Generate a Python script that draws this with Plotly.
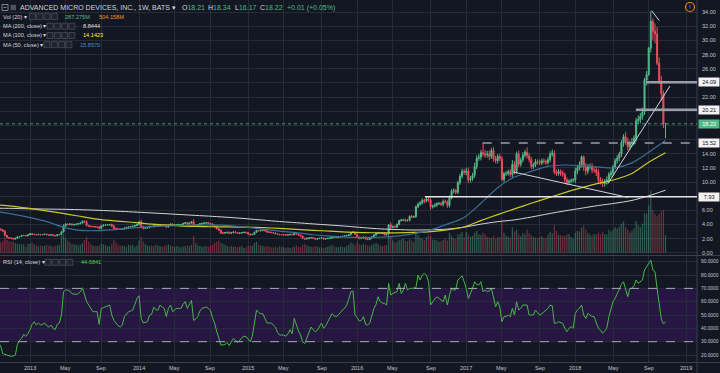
import pandas as pd
import plotly.graph_objects as go

# ---------------- data (weekly bars, AMD) ----------------
first_week = "2012-09-10"          # Monday of the first weekly bar
first_open = 3.75

close_2012 = [3.60, 3.40, 3.35, 3.25, 3.05, 2.45, 2.15, 2.10, 2.05, 1.95, 2.05, 2.25, 2.30, 2.45, 2.45, 2.40, 2.55]
close_2013 = [2.70, 2.60, 2.60, 2.55, 2.60, 2.55, 2.58, 2.62, 2.55, 2.50, 2.55, 2.45, 2.40, 2.55, 2.58, 2.95, 3.80, 4.05, 4.00, 4.05,
              3.95, 4.00, 4.05, 4.10, 4.20, 4.45, 4.30, 3.85, 3.75, 3.70, 3.70, 3.65, 3.65, 3.45, 3.80, 3.90, 3.95, 3.95, 4.00, 3.75,
              3.45, 3.40, 3.35, 3.30, 3.35, 3.50, 3.60, 3.65, 3.70, 3.75, 3.85, 4.00]
close_2014 = [4.35, 3.70, 3.45, 3.50, 3.55, 3.75, 3.70, 3.90, 3.80, 3.80, 3.95, 3.90, 3.85, 3.65, 3.90, 4.05, 3.85, 3.95, 4.00, 4.00,
              4.00, 4.15, 4.25, 4.05, 4.20, 4.40, 3.90, 3.90, 3.95, 4.10, 4.15, 4.20, 4.25, 4.15, 4.10, 3.85, 3.70, 3.40, 3.20, 2.80,
              2.80, 2.85, 2.90, 2.75, 2.85, 2.95, 2.85, 2.75, 2.80, 2.85, 2.90, 2.85]
close_2015 = [2.65, 2.55, 2.60, 2.90, 3.15, 3.10, 3.15, 3.20, 3.10, 2.95, 2.90, 2.85, 2.80, 2.70, 2.60, 2.55, 2.55, 2.55, 2.50, 2.55,
              2.60, 2.55, 2.75, 2.65, 2.50, 2.35, 2.05, 1.95, 2.05, 2.10, 2.15, 2.05, 1.95, 2.00, 2.05, 2.10, 1.95, 2.00, 2.05, 2.10,
              2.20, 2.15, 2.15, 2.20, 2.30, 2.35, 2.40, 2.45, 2.55, 2.85, 2.90, 2.60]
close_2016 = [2.20, 2.05, 2.10, 2.20, 1.95, 1.90, 2.10, 2.25, 2.50, 2.75, 2.80, 2.75, 2.80, 2.55, 2.70, 3.95, 3.60, 3.70, 3.65, 4.00,
              4.55, 4.60, 4.65, 4.55, 4.60, 5.15, 5.05, 5.10, 6.50, 6.85, 7.05, 7.40, 7.30, 7.60, 7.45, 6.50, 6.60, 6.75, 6.95, 6.95,
              6.85, 7.25, 7.20, 6.70, 7.80, 8.70, 8.80, 8.55, 9.90, 10.80, 11.50, 11.35]
close_2017 = [11.55, 10.30, 10.45, 10.95, 12.20, 13.35, 13.50, 14.15, 14.00, 13.85, 13.95, 13.60, 14.45, 13.30, 13.00, 13.60, 13.30, 10.35, 11.15, 11.20,
              11.45, 11.05, 12.50, 11.50, 14.00, 12.50, 13.10, 13.80, 14.20, 13.70, 13.20, 12.20, 12.40, 12.90, 12.80, 12.70, 13.00, 12.90, 12.75, 13.15,
              13.90, 14.05, 11.40, 11.20, 11.50, 11.20, 11.05, 10.30, 9.90, 10.10, 10.20, 10.28]
close_2018 = [11.55, 12.00, 12.45, 13.55, 12.10, 11.55, 12.15, 12.15, 11.70, 11.70, 11.35, 10.30, 10.05, 9.75, 10.00, 10.30, 11.05, 11.30, 12.15, 13.00,
              13.40, 13.95, 15.50, 16.40, 15.70, 14.99, 15.45, 15.60, 16.20, 18.65, 18.80, 19.25, 19.90, 24.40, 25.17, 28.90, 32.70, 31.30, 30.90, 26.80,
              24.30, 22.50, 18.21, 18.22]

wick_up_2012 = [0.10, 0.08, 0.10, 0.10, 0.12, 0.15, 0.10, 0.08, 0.08, 0.06, 0.08, 0.08, 0.07, 0.08, 0.07, 0.06, 0.10]
wick_up_2013 = [0.08, 0.10, 0.07, 0.06, 0.08, 0.07, 0.06, 0.08, 0.07, 0.06, 0.07, 0.06, 0.08, 0.07, 0.08, 0.15, 0.20, 0.15, 0.10, 0.12,
                0.10, 0.10, 0.08, 0.10, 0.10, 0.12, 0.15, 0.30, 0.12, 0.10, 0.08, 0.10, 0.08, 0.10, 0.12, 0.10, 0.12, 0.10, 0.08, 0.12,
                0.20, 0.10, 0.08, 0.08, 0.10, 0.08, 0.08, 0.08, 0.10, 0.08, 0.08, 0.10]
wick_up_2014 = [0.15, 0.35, 0.12, 0.10, 0.10, 0.10, 0.08, 0.10, 0.10, 0.12, 0.10, 0.10, 0.10, 0.12, 0.10, 0.10, 0.12, 0.10, 0.08, 0.10,
                0.08, 0.10, 0.10, 0.12, 0.10, 0.10, 0.35, 0.12, 0.10, 0.10, 0.10, 0.10, 0.10, 0.12, 0.10, 0.10, 0.10, 0.12, 0.10, 0.12,
                0.15, 0.10, 0.08, 0.10, 0.10, 0.08, 0.10, 0.10, 0.08, 0.08, 0.08, 0.08]
wick_up_2015 = [0.08, 0.08, 0.07, 0.10, 0.10, 0.08, 0.08, 0.08, 0.10, 0.08, 0.07, 0.08, 0.07, 0.08, 0.10, 0.08, 0.08, 0.07, 0.06, 0.07,
                0.06, 0.07, 0.08, 0.10, 0.08, 0.07, 0.08, 0.08, 0.08, 0.07, 0.06, 0.07, 0.06, 0.08, 0.07, 0.06, 0.07, 0.06, 0.06, 0.08,
                0.10, 0.08, 0.06, 0.07, 0.06, 0.07, 0.08, 0.07, 0.08, 0.10, 0.15, 0.10]
wick_up_2016 = [0.10, 0.10, 0.12, 0.10, 0.10, 0.10, 0.08, 0.10, 0.12, 0.10, 0.10, 0.10, 0.10, 0.10, 0.08, 0.10, 0.35, 0.15, 0.15, 0.15,
                0.12, 0.20, 0.15, 0.20, 0.15, 0.15, 0.20, 0.15, 0.20, 0.25, 0.25, 0.30, 0.25, 0.35, 0.40, 0.25, 0.20, 0.25, 0.20, 0.25,
                0.20, 0.30, 0.25, 0.20, 0.30, 0.30, 0.30, 0.25, 0.30, 0.40, 0.40, 0.35]
wick_up_2017 = [0.45, 0.50, 0.40, 0.35, 0.50, 0.40, 0.45, 0.40, 1.40, 0.55, 0.45, 0.50, 0.40, 0.45, 0.40, 0.35, 0.40, 0.35, 0.30, 0.35,
                0.30, 0.40, 0.60, 0.45, 0.30, 0.45, 0.35, 0.40, 0.35, 0.70, 0.40, 0.35, 0.30, 0.35, 0.30, 0.35, 0.30, 0.35, 0.30, 0.40,
                0.45, 0.55, 0.40, 0.35, 0.35, 0.30, 0.40, 0.30, 0.35, 0.30, 0.30, 0.25]
wick_up_2018 = [0.50, 0.40, 0.45, 0.20, 0.20, 0.60, 0.40, 0.45, 0.50, 0.40, 0.45, 0.50, 0.40, 0.45, 0.40, 0.50, 0.35, 0.45, 0.30, 0.35,
                0.40, 0.30, 0.40, 0.35, 0.70, 0.55, 0.40, 0.60, 0.40, 0.40, 0.60, 0.50, 0.60, 0.30, 0.50, 0.20, 1.44, 0.40, 1.10, 1.00,
                0.80, 0.70, 0.40, 0.12]

wick_dn_2012 = [0.12, 0.08, 0.08, 0.10, 0.10, 0.12, 0.08, 0.10, 0.10, 0.09, 0.10, 0.08, 0.08, 0.07, 0.06, 0.06, 0.05]
wick_dn_2013 = [0.08, 0.10, 0.08, 0.06, 0.07, 0.08, 0.06, 0.07, 0.06, 0.07, 0.08, 0.06, 0.07, 0.08, 0.06, 0.08, 0.10, 0.10, 0.12, 0.10,
                0.12, 0.10, 0.12, 0.10, 0.08, 0.10, 0.10, 0.10, 0.12, 0.10, 0.10, 0.10, 0.12, 0.10, 0.08, 0.10, 0.08, 0.10, 0.10, 0.08,
                0.10, 0.12, 0.10, 0.08, 0.08, 0.08, 0.06, 0.08, 0.08, 0.08, 0.06, 0.08]
wick_dn_2014 = [0.10, 0.10, 0.15, 0.10, 0.10, 0.08, 0.10, 0.08, 0.10, 0.10, 0.08, 0.10, 0.10, 0.15, 0.10, 0.08, 0.10, 0.10, 0.10, 0.08,
                0.10, 0.08, 0.10, 0.08, 0.10, 0.08, 0.10, 0.10, 0.12, 0.08, 0.10, 0.10, 0.08, 0.08, 0.10, 0.10, 0.10, 0.10, 0.12, 0.15,
                0.15, 0.10, 0.10, 0.08, 0.10, 0.10, 0.08, 0.08, 0.10, 0.08, 0.08, 0.08]
wick_dn_2015 = [0.08, 0.10, 0.07, 0.06, 0.08, 0.08, 0.07, 0.08, 0.08, 0.10, 0.07, 0.08, 0.07, 0.08, 0.06, 0.08, 0.07, 0.07, 0.08, 0.06,
                0.06, 0.07, 0.06, 0.08, 0.08, 0.08, 0.10, 0.12, 0.08, 0.15, 0.08, 0.07, 0.10, 0.15, 0.06, 0.07, 0.06, 0.07, 0.06, 0.07,
                0.08, 0.07, 0.06, 0.07, 0.06, 0.07, 0.06, 0.07, 0.08, 0.08, 0.08, 0.10]
wick_dn_2016 = [0.15, 0.15, 0.12, 0.10, 0.10, 0.12, 0.10, 0.08, 0.10, 0.10, 0.10, 0.10, 0.08, 0.12, 0.10, 0.10, 0.25, 0.12, 0.12, 0.15,
                0.10, 0.15, 0.12, 0.20, 0.15, 0.15, 0.15, 0.15, 0.15, 0.20, 0.20, 0.25, 0.30, 0.20, 0.25, 0.40, 0.25, 0.20, 0.25, 0.20,
                0.25, 0.30, 0.20, 0.35, 0.30, 0.25, 0.30, 0.30, 0.25, 0.30, 0.30, 0.35]
wick_dn_2017 = [0.40, 0.45, 0.35, 0.30, 0.35, 0.40, 0.35, 0.45, 0.40, 0.45, 0.40, 0.50, 0.35, 0.40, 0.35, 0.40, 0.35, 0.20, 0.35, 0.30,
                0.30, 0.35, 0.40, 0.45, 0.35, 0.40, 0.35, 0.30, 0.35, 0.40, 0.45, 0.40, 0.35, 0.30, 0.35, 0.30, 0.35, 0.30, 0.35, 0.30,
                0.35, 0.30, 0.30, 0.35, 0.30, 0.35, 0.30, 0.40, 0.35, 0.30, 0.30, 0.25]
wick_dn_2018 = [0.40, 0.45, 0.35, 0.40, 0.50, 0.60, 0.40, 0.35, 0.45, 0.40, 0.50, 0.45, 0.40, 0.45, 0.40, 0.35, 0.40, 0.35, 0.40, 0.35,
                0.40, 0.45, 0.40, 0.50, 0.45, 0.50, 0.40, 0.45, 0.40, 0.50, 0.45, 0.50, 0.45, 0.40, 0.80, 0.20, 0.60, 1.30, 1.30, 0.30,
                0.40, 1.00, 0.60, 2.04]

# weekly volume, millions of shares
vol_2012 = [180, 150, 160, 170, 190, 250, 210, 190, 180, 190, 160, 150, 150, 140, 140, 100, 150]
vol_2013 = [150, 170, 140, 120, 110, 120, 110, 120, 130, 120, 110, 100, 110, 120, 130, 280, 300, 240, 200, 170,
            150, 140, 130, 120, 130, 160, 210, 260, 180, 140, 120, 110, 110, 120, 150, 140, 130, 110, 110, 150,
            220, 170, 130, 120, 110, 110, 100, 130, 120, 130, 100, 120]
vol_2014 = [200, 260, 180, 140, 120, 110, 120, 110, 130, 120, 110, 100, 110, 120, 140, 120, 110, 100, 110, 100,
            90, 100, 110, 120, 110, 130, 280, 160, 120, 110, 100, 100, 110, 100, 110, 130, 160, 180, 200, 170,
            150, 130, 110, 100, 110, 100, 100, 90, 100, 110, 80, 90]
vol_2015 = [110, 120, 110, 160, 180, 130, 120, 110, 100, 110, 100, 90, 90, 100, 90, 110, 100, 90, 80, 90,
            80, 90, 100, 120, 100, 90, 130, 150, 120, 110, 100, 90, 110, 100, 90, 90, 80, 90, 100, 110,
            130, 110, 90, 90, 100, 100, 90, 110, 130, 170, 150, 120]
vol_2016 = [180, 140, 130, 150, 140, 120, 110, 130, 150, 160, 140, 120, 110, 120, 130, 330, 260, 200, 170, 180,
            210, 220, 230, 200, 190, 220, 200, 180, 330, 290, 250, 230, 210, 260, 300, 280, 220, 210, 200, 180,
            190, 210, 230, 200, 330, 280, 240, 230, 300, 310, 340, 250]
vol_2017 = [340, 300, 260, 280, 330, 360, 300, 290, 330, 300, 260, 250, 240, 280, 230, 250, 260, 550, 330, 280,
            260, 250, 420, 350, 380, 300, 270, 320, 300, 380, 320, 290, 260, 250, 240, 260, 270, 250, 240, 300,
            340, 320, 450, 360, 300, 290, 270, 280, 300, 310, 260, 230]
vol_2018 = [330, 360, 350, 420, 450, 380, 330, 300, 280, 310, 300, 330, 300, 340, 310, 300, 380, 350, 380, 420,
            400, 430, 480, 520, 420, 380, 330, 360, 400, 520, 450, 420, 480, 650, 640, 780, 1020, 700, 640, 600,
            640, 680, 700, 287]

# RSI(14) read week by week from the lower pane
rsi = [32, 31, 29, 27, 21, 20.5, 20, 19.5, 19, 19.2,
       20, 28, 31, 32.5, 35.5, 34, 36, 39, 43, 45,
       42.5, 44, 42.5, 43, 44, 42, 41, 42.5, 40, 39,
       43, 44, 50, 67.5, 69, 68.5, 68, 66, 65.5, 65.5,
       66, 67.5, 70.5, 66, 60, 57.5, 55, 52.5, 52.5, 52.5,
       43, 55, 55.5, 56, 57, 57.5, 50, 46, 44, 42,
       41, 42.5, 48.75, 51, 52.5, 53, 53.75, 58, 62.5, 64.5,
       47.5, 44, 44.5, 45, 50, 50.5, 56, 54, 53.75, 57.5,
       56, 55, 48.75, 55, 57.5, 52.5, 54, 55, 55, 55,
       58, 60, 55, 58, 61, 46, 47, 48.75, 53, 55,
       55.5, 56, 55, 53.75, 48, 44, 38, 32, 27.5, 27.5,
       28, 29.5, 27, 30, 32.5, 31, 29.5, 31, 33, 34,
       34, 32, 30, 34, 45, 53.75, 52, 51, 51, 48,
       44, 44, 44, 42.5, 41, 37, 35, 35, 35, 34,
       36, 39, 36, 47.5, 42.5, 38, 35, 30, 28.5, 33,
       37.5, 41, 39, 37.5, 38.5, 41, 44, 40, 42, 45,
       48, 51, 49.5, 48.75, 50, 52, 53.75, 55, 57.5, 62,
       67.5, 68, 50, 48, 45.5, 46, 48.75, 43, 42.5, 44,
       50, 55, 58, 63.75, 60, 59, 58.75, 57.5, 73.75, 65,
       66.25, 67, 67.5, 73.75, 66.25, 68.75, 73.75, 68.75, 70, 70,
       70, 70.5, 80, 76.25, 80, 81.25, 80, 75, 57.5, 60,
       62, 63.75, 62.5, 61, 60, 65, 57.5, 65, 70, 68.75,
       69, 76.25, 78, 79.5, 75, 70, 62.5, 66, 70, 75,
       73, 72.5, 75, 67.5, 68.75, 67.5, 68, 70, 62.5, 56.25,
       60, 56, 45, 48.75, 49, 50, 48.75, 55, 50, 60,
       53.75, 55, 57.5, 57.5, 57.5, 50, 50, 50, 53.75, 52,
       50, 51, 52.5, 53.75, 55, 57.5, 57, 43.75, 44, 45,
       44.5, 43.75, 40, 37.5, 40, 41.25, 40, 51.25, 53.75, 55,
       57.5, 50, 47.5, 51.25, 50, 49, 48.75, 45, 40, 38.75,
       36.25, 38, 40, 48.75, 55, 60, 62.5, 66, 70, 73,
       75, 70, 63.75, 70, 70, 72, 76.25, 73.75, 75, 76.25,
       83.75, 86.25, 89, 91.25, 83.75, 82.5, 70, 60, 47, 43.5,
       44.68]

# moving averages read every 8th week
ma_step_weeks = 8
ma200 = [6.30, 6.28, 6.22, 6.18, 6.15, 6.10, 6.02, 5.92, 5.80, 5.68, 5.55, 5.42, 5.28, 5.15, 5.00, 4.82, 4.62, 4.42, 4.25, 4.08,
         3.92, 3.75, 3.55, 3.38, 3.28, 3.22, 3.25, 3.35, 3.62, 4.05, 4.40, 4.65, 5.05, 5.50, 5.92, 6.30, 6.68, 7.00, 7.40, 8.05, 8.84]
ma100 = [6.80, 6.60, 6.30, 5.95, 5.60, 5.20, 4.80, 4.55, 4.35, 4.12, 3.95, 3.80, 3.72, 3.68, 3.65, 3.62, 3.55, 3.45, 3.32, 3.18,
         3.05, 2.92, 2.85, 2.82, 2.82, 2.88, 3.00, 3.25, 3.65, 4.55, 5.40, 6.20, 7.00, 7.75, 8.50, 9.20, 9.80, 10.35, 11.20, 12.80, 14.14]
ma50 = [5.85, 5.50, 5.05, 4.50, 3.70, 3.20, 3.12, 3.25, 3.45, 3.65, 3.78, 3.86, 3.90, 3.95, 3.85, 3.62, 3.35, 3.05, 2.85, 2.55,
        2.35, 2.22, 2.18, 2.20, 2.35, 2.70, 3.25, 4.05, 5.00, 7.00, 9.20, 10.70, 11.50, 12.20, 12.40, 12.30, 12.10, 12.00, 12.70, 14.20, 15.86]

# drawn horizontal levels (price, start date) and trend lines
level_price = [7.93, 15.52, 24.09, 20.21]
level_start = ["2016-08-17", "2017-02-26", "2018-08-27", "2018-07-22"]
last_price = 18.22
trend_x0 = ["2018-04-20", "2017-06-07", "2018-09-13"]
trend_y0 = [9.78, 11.43, 34.2]
trend_x1 = ["2018-11-13", "2018-06-26", "2018-10-08"]
trend_y1 = [23.56, 7.82, 32.8]

price_ticks = list(range(0, 36, 2))
rsi_ticks = [20, 30, 40, 50, 60, 70, 80, 90]

# ---------------- assemble series ----------------
close = close_2012 + close_2013 + close_2014 + close_2015 + close_2016 + close_2017 + close_2018
wick_up = wick_up_2012 + wick_up_2013 + wick_up_2014 + wick_up_2015 + wick_up_2016 + wick_up_2017 + wick_up_2018
wick_dn = wick_dn_2012 + wick_dn_2013 + wick_dn_2014 + wick_dn_2015 + wick_dn_2016 + wick_dn_2017 + wick_dn_2018
volume = vol_2012 + vol_2013 + vol_2014 + vol_2015 + vol_2016 + vol_2017 + vol_2018
n = len(close)
assert len(wick_up) == n and len(wick_dn) == n and len(volume) == n and len(rsi) == n

dates = pd.date_range(first_week, periods=n, freq="7D")
opens = [first_open] + close[:-1]
high = [max(o, c) + u for o, c, u in zip(opens, close, wick_up)]
low = [min(o, c) - d for o, c, d in zip(opens, close, wick_dn)]
ma_dates = dates[::ma_step_weeks]

# ---------------- style ----------------
W, H = 720, 373
BG = "#131722"
GRID = "#262b38"
AXTXT = "#c3c6ce"
UP = "#53b987"
DN = "#eb4d5c"
FONT = "Liberation Sans, Arial, sans-serif"
X_RIGHT = 697
PRICE_BOTTOM = 255
RSI_TOP, RSI_BOTTOM = 256, 362
X_RANGE = ["2012-09-28 21:00", "2019-02-11 04:00"]
PRICE_RANGE = [-0.31, 35.71]
RSI_RANGE = [14.75, 94.3]


def px(x):
    return x / W


def py(y):
    return 1 - y / H


fig = go.Figure()

vol_colors = ["rgba(83,185,135,0.42)" if c >= o else "rgba(235,77,92,0.42)" for o, c in zip(opens, close)]
fig.add_trace(go.Bar(x=dates, y=volume, marker=dict(color=vol_colors, line=dict(width=0)),
                     width=0.6 * 7 * 86400000, xaxis="x", yaxis="y3", showlegend=False, hoverinfo="skip"))

fig.add_trace(go.Scatter(x=ma_dates, y=ma200, mode="lines", line=dict(color="#d6d6d6", width=1, shape="spline", smoothing=0.8),
                         xaxis="x", yaxis="y", showlegend=False, hoverinfo="skip"))
fig.add_trace(go.Scatter(x=ma_dates, y=ma100, mode="lines", line=dict(color="#c8c82a", width=1.2, shape="spline", smoothing=0.8),
                         xaxis="x", yaxis="y", showlegend=False, hoverinfo="skip"))
fig.add_trace(go.Scatter(x=ma_dates, y=ma50, mode="lines", line=dict(color="#3b6e96", width=1.2, shape="spline", smoothing=0.8),
                         xaxis="x", yaxis="y", showlegend=False, hoverinfo="skip"))

fig.add_trace(go.Candlestick(x=dates, open=opens, high=high, low=low, close=close,
                             increasing=dict(line=dict(color=UP, width=1), fillcolor=UP),
                             decreasing=dict(line=dict(color=DN, width=1), fillcolor=DN),
                             whiskerwidth=0, xaxis="x", yaxis="y", showlegend=False, hoverinfo="skip"))

fig.add_trace(go.Scatter(x=dates, y=rsi, mode="lines", line=dict(color="#45b845", width=1),
                         xaxis="x2", yaxis="y2", showlegend=False, hoverinfo="skip"))

# x ticks at the first weekly bar of Jan / May / Sep
lo, hi = pd.Timestamp(X_RANGE[0]), pd.Timestamp(X_RANGE[1])
tick_vals, tick_text = [], []
for yr in range(2012, 2020):
    for m, name in ((1, str(yr)), (5, "May"), (9, "Sep")):
        d = pd.Timestamp(yr, m, 1)
        d = d + pd.Timedelta(days=(7 - d.weekday()) % 7)
        if lo <= d <= hi:
            tick_vals.append(d)
            tick_text.append(name)

common_x = dict(type="date", range=X_RANGE, domain=[0, px(X_RIGHT)], tickvals=tick_vals,
                showgrid=True, gridcolor=GRID, gridwidth=1, zeroline=False, showline=False, ticks="",
                showticklabels=False)
common_y = dict(side="right", showgrid=True, gridcolor=GRID, zeroline=False, showline=False, ticks="",
                showticklabels=False)
fig.update_layout(
    width=W, height=H, margin=dict(l=0, r=0, t=0, b=0),
    paper_bgcolor=BG, plot_bgcolor=BG, hovermode=False, showlegend=False,
    font=dict(family=FONT, color=AXTXT, size=6),
    xaxis=dict(**common_x, anchor="y", rangeslider=dict(visible=False)),
    xaxis2=dict(**common_x, anchor="y2", matches="x"),
    yaxis=dict(**common_y, domain=[py(PRICE_BOTTOM), 1], range=PRICE_RANGE, anchor="x", tickvals=price_ticks),
    yaxis2=dict(**common_y, domain=[py(RSI_BOTTOM), py(RSI_TOP)], range=RSI_RANGE, anchor="x2", tickvals=rsi_ticks),
    yaxis3=dict(overlaying="y", range=[-36, 4142], visible=False, anchor="x"),
)

shapes = []
# RSI band and its bounds
shapes.append(dict(type="rect", xref="x2", yref="y2", x0=X_RANGE[0], x1=X_RANGE[1], y0=30, y1=70,
                   fillcolor="rgba(153,21,255,0.15)", line=dict(width=0), layer="below"))
for lvl in (30, 70):
    shapes.append(dict(type="line", xref="x2", yref="y2", x0=X_RANGE[0], x1=X_RANGE[1], y0=lvl, y1=lvl,
                       line=dict(color="#a9acb5", width=1, dash="dash")))
# pane separators
SEP = "#3b3f4b"
shapes.append(dict(type="line", xref="paper", yref="paper", x0=0, x1=1, y0=py(255.5), y1=py(255.5), line=dict(color=SEP, width=1)))
shapes.append(dict(type="line", xref="paper", yref="paper", x0=0, x1=1, y0=py(362.5), y1=py(362.5), line=dict(color=SEP, width=1)))
shapes.append(dict(type="line", xref="paper", yref="paper", x0=px(X_RIGHT), x1=px(X_RIGHT), y0=0, y1=1, line=dict(color=SEP, width=1)))

# drawings on the price pane
shapes.append(dict(type="line", xref="x", yref="y", x0=X_RANGE[0], x1=X_RANGE[1], y0=last_price, y1=last_price,
                   line=dict(color="rgba(83,185,135,0.8)", width=1, dash="dot")))
level_styles = [dict(color="#e6e6e6", width=1.5), dict(color="#9a9da6", width=1.5, dash="dash"),
                dict(color="#9a9da6", width=2.5), dict(color="#9a9da6", width=2.5)]
for p, s, st in zip(level_price, level_start, level_styles):
    shapes.append(dict(type="line", xref="x", yref="y", x0=s, x1=X_RANGE[1], y0=p, y1=p, line=st))
for a, b, c, d in zip(trend_x0, trend_y0, trend_x1, trend_y1):
    shapes.append(dict(type="line", xref="x", yref="y", x0=a, y0=b, x1=c, y1=d, line=dict(color="#d1d4dc", width=1)))


def squares(x_start, step, y_center, count=4, size=6):
    out = []
    for k in range(count):
        x0 = x_start + k * step
        out.append(dict(type="rect", xref="paper", yref="paper", x0=px(x0), x1=px(x0 + size),
                        y0=py(y_center + size / 2), y1=py(y_center - size / 2),
                        fillcolor="#1e222c", line=dict(color="#4a4e59", width=0.8)))
    return out


shapes += squares(29.5, 7.3, 16.7)
shapes += squares(47, 7.3, 26.2)
shapes += squares(47, 7.3, 35.5)
shapes += squares(44, 7.3, 44.7)
shapes += squares(45, 7.3, 262.3)
# header icons
shapes.append(dict(type="rect", xref="paper", yref="paper", x0=px(2), x1=px(8), y0=py(10.5), y1=py(4.5),
                   line=dict(color="#9a9da6", width=0.8)))
shapes.append(dict(type="line", xref="paper", yref="paper", x0=px(3.5), x1=px(6.5), y0=py(7.5), y1=py(7.5),
                   line=dict(color="#9a9da6", width=0.8)))
shapes.append(dict(type="rect", xref="paper", yref="paper", x0=px(10.5), x1=px(16), y0=py(10.2), y1=py(4.8),
                   fillcolor="#50545f", line=dict(width=0)))
# orange indicator circle top right
shapes.append(dict(type="circle", xref="paper", yref="paper", x0=px(685.5), x1=px(694.5), y0=py(11.5), y1=py(2.5),
                   line=dict(color="#f0821e", width=1.2)))
fig.update_layout(shapes=shapes)

ann = []


def text(x, y, s, color="#d1d4dc", size=5.6, xanchor="left"):
    ann.append(dict(xref="paper", yref="paper", x=px(x), y=py(y), text=s, showarrow=False,
                    xanchor=xanchor, yanchor="middle", font=dict(family=FONT, size=size, color=color)))


text(17.5, 7.6, "ADVANCED MICRO DEVICES, INC., 1W, BATS \u25be", size=7)
GVAL = "#53b987"
for x, lab, val in ((180, "O", "18.21"), (206, "H", "18.34"), (232.5, "L", "16.17"), (258, "C", "18.22")):
    text(x, 7.6, f"{lab}<span style='color:{GVAL}'>{val}</span>", size=7)
text(284.5, 7.6, "+0.01 (+0.05%)", color=GVAL, size=7)
text(0.5, 16.7, "Vol (20) \u25be")
text(63, 16.7, "287.275M", color="#53b987")
text(96.5, 16.7, "504.158M", color="#f0922e")
text(0.5, 26.2, "MA (200, close) \u25be")
text(81, 26.2, "8.8444", color="#e0e0e0")
text(0.5, 35.5, "MA (100, close) \u25be")
text(81, 35.5, "14.1423", color="#f5f51e")
text(0.5, 44.7, "MA (50, close) \u25be")
text(78, 44.7, "15.8570", color="#4a8fc7")
text(0.5, 262.3, "RSI (14, close) \u25be")
text(79, 262.3, "44.6841", color="#4bd24b")
text(690, 7.0, "!", color="#f0821e", size=6, xanchor="center")

# axis tick labels (price labels hidden under the drawn-level boxes are not shown, as in the reference)
box_prices = level_price + [last_price]
for v in price_ticks:
    if any(abs(v - b) < 1.0 for b in box_prices):
        continue
    ann.append(dict(xref="paper", yref="y", x=px(700), y=v, text=f"{v:.2f}", showarrow=False,
                    xanchor="left", yanchor="middle", font=dict(family=FONT, size=5.5, color=AXTXT)))
for v in rsi_ticks:
    ann.append(dict(xref="paper", yref="y2", x=px(699), y=v, text=f"{v:.4f}", showarrow=False,
                    xanchor="left", yanchor="middle", font=dict(family=FONT, size=4.8, color=AXTXT)))
for d, t in zip(tick_vals, tick_text):
    ann.append(dict(xref="x2", yref="paper", x=d, y=py(368), text=t, showarrow=False,
                    xanchor="center", yanchor="middle", font=dict(family=FONT, size=5.5, color=AXTXT)))

# price-scale labels for drawn levels and last price
for p in box_prices:
    is_last = p == last_price
    ann.append(dict(xref="paper", yref="y", x=px(X_RIGHT + 0.5), y=p, text=f"{p:.2f}", showarrow=False,
                    xanchor="left", yanchor="middle", width=18, align="center", borderpad=1.2,
                    bgcolor=UP if is_last else "#f2f2f2",
                    font=dict(family=FONT, size=5.6, color="#ffffff" if is_last else "#131722")))
fig.update_layout(annotations=ann)

fig.write_html("out.html", include_plotlyjs=True,
               config={"displayModeBar": False, "staticPlot": True},
               post_script="document.body.style.margin='0';document.body.style.padding='0';"
                           "document.body.style.background='#131722';")
